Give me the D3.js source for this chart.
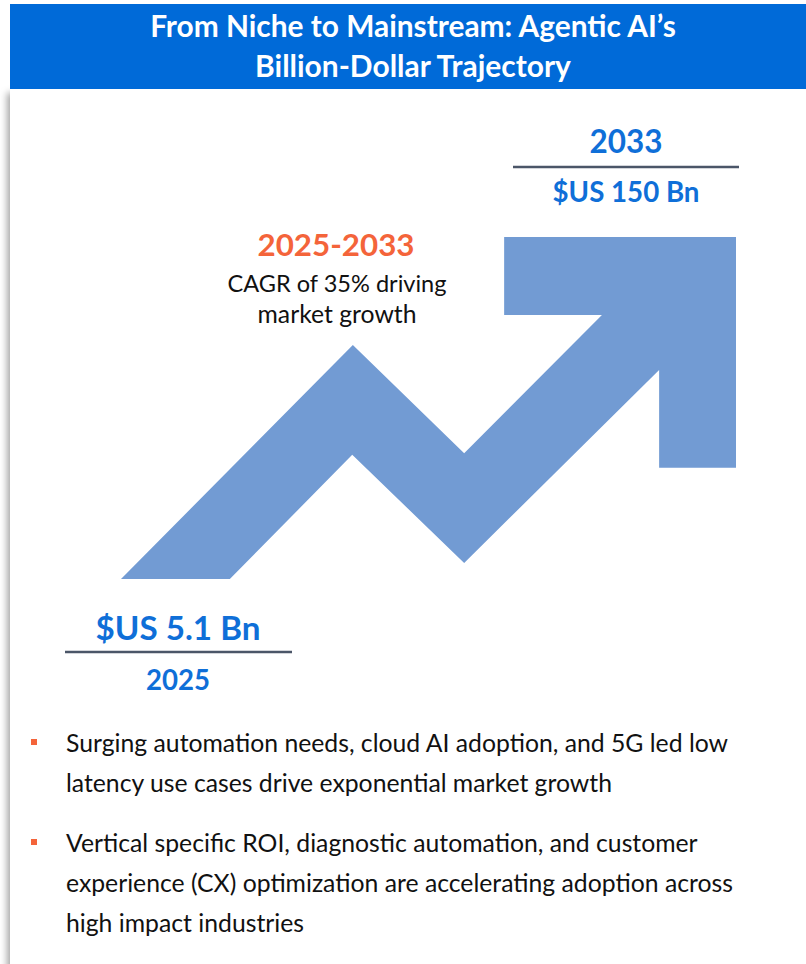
<!DOCTYPE html>
<html>
<head>
<meta charset="utf-8">
<script src="https://cdn.jsdelivr.net/npm/d3@7"></script>
<style>
  body { margin: 0; background: #fff; }
  text { font-family: Lato, "Open Sans", sans-serif; }
</style>
</head>
<body>
<div id="chart"></div>
<script>
// chart content
var titleLines = ["From Niche to Mainstream: Agentic AI\u2019s", "Billion-Dollar Trajectory"]
var years = [2025, 2033]
var marketValues = [5.1, 150]
var cagrRate = 35
var cagrText = ["CAGR of " + cagrRate + "% driving", "market growth"]
var bullets = [
  ["Surging automation needs, cloud AI adoption, and 5G led low",
   "latency use cases drive exponential market growth"],
  ["Vertical specific ROI, diagnostic automation, and customer",
   "experience (CX) optimization are accelerating adoption across",
   "high impact industries"]
]
// trend arrow outline, in 0..1 units of the arrow box
var arrowX = [0, 0.177, 0.376, 0.558, 0.875, 0.875, 1, 1, 0.623, 0.623, 0.782, 0.558, 0.377]
var arrowY = [0, 0, 0.363, 0.047, 0.611, 0.325, 0.325, 1, 1, 0.772, 0.772, 0.368, 0.684]

var width = 806, height = 964
var blue = '#0F6FD8', orange = '#F4643A', arrowColor = '#729BD3'

var svg = d3.select("#chart")
  .append("svg")
  .attr("width", width)
  .attr("height", height)

var defs = svg.append("defs")
var shadow = defs.append("filter")
  .attr("id", "card-shadow")
  .attr("x", "-5%").attr("y", "-5%")
  .attr("width", "110%").attr("height", "110%")
shadow.append("feDropShadow")
  .attr("dx", -3).attr("dy", 4)
  .attr("stdDeviation", 3.5)
  .attr("flood-color", "#000")
  .attr("flood-opacity", 0.35)

// card + title bar
svg.append("rect")
  .attr("x", 10).attr("y", 89)
  .attr("width", 820).attr("height", 900)
  .style("fill", "#fff")
  .attr("filter", "url(#card-shadow)")

svg.append("rect")
  .attr("x", 10).attr("y", 4)
  .attr("width", 800).attr("height", 85)
  .style("fill", "#006AD8")

// fit a text element to a target width
function fit(sel, w) {
  var fs = parseFloat(sel.style("font-size"))
  var len = sel.node().getComputedTextLength()
  sel.style("font-size", (fs * w / len).toFixed(2) + "px")
  return sel
}

svg.selectAll(".title")
  .data(titleLines)
  .enter()
  .append("text")
  .attr("class", "title")
  .attr("x", 413)
  .attr("y", (d, i) => 37 + i * 40)
  .attr("text-anchor", "middle")
  .style("fill", "#fff")
  .style("font-weight", "bold")
  .style("font-size", "24px")
  .text(d => d)
  .each(function(d, i) { fit(d3.select(this), [526, 316][i]) })

// arrow
var xScale = d3.scaleLinear().domain([0, 1]).range([121, 736])
var yScale = d3.scaleLinear().domain([0, 1]).range([579, 237])

var arrowPts = arrowX.map((x, i) => [xScale(x), yScale(arrowY[i])])
svg.append("path")
  .attr("class", "trend-arrow")
  .attr("d", d3.line()(arrowPts) + "Z")
  .style("fill", arrowColor)

var money = d => "$US " + d + " Bn"

// 2033 label (top right)
svg.append("text")
  .attr("x", 626).attr("y", 153)
  .attr("text-anchor", "middle")
  .style("fill", blue).style("font-weight", "bold").style("font-size", "30px")
  .text(years[1])
  .call(fit, 73)

svg.append("line")
  .attr("x1", 513).attr("x2", 739)
  .attr("y1", 167).attr("y2", 167)
  .style("stroke", "#4B5668").style("stroke-width", 2.5)

svg.append("text")
  .attr("x", 626).attr("y", 202)
  .attr("text-anchor", "middle")
  .style("fill", blue).style("font-weight", "bold").style("font-size", "26px")
  .text(money(marketValues[1]))
  .call(fit, 147)

// CAGR label
svg.append("text")
  .attr("x", 336).attr("y", 256)
  .attr("text-anchor", "middle")
  .style("fill", orange).style("font-weight", "bold").style("font-size", "30px")
  .text(years[0] + "-" + years[1])
  .call(fit, 157)

svg.selectAll(".cagr")
  .data(cagrText)
  .enter()
  .append("text")
  .attr("class", "cagr")
  .attr("x", 337)
  .attr("y", (d, i) => 292 + i * 31)
  .attr("text-anchor", "middle")
  .style("fill", "#111").style("font-size", "21px")
  .text(d => d)
  .each(function(d, i) { fit(d3.select(this), [219, 159][i]) })

// 2025 label (bottom left)
svg.append("text")
  .attr("x", 178).attr("y", 640)
  .attr("text-anchor", "middle")
  .style("fill", blue).style("font-weight", "bold").style("font-size", "30px")
  .text(money(marketValues[0]))
  .call(fit, 165)

svg.append("line")
  .attr("x1", 65).attr("x2", 292)
  .attr("y1", 652).attr("y2", 652)
  .style("stroke", "#4B5668").style("stroke-width", 2.5)

svg.append("text")
  .attr("x", 178).attr("y", 690)
  .attr("text-anchor", "middle")
  .style("fill", blue).style("font-weight", "bold").style("font-size", "26px")
  .text(years[0])
  .call(fit, 64)

// bullets
var bulletTop = [752, 852]
var bulletG = svg.selectAll(".bullet")
  .data(bullets)
  .enter()
  .append("g")
  .attr("class", "bullet")
  .attr("transform", (d, i) => `translate(0,${bulletTop[i]})`)

bulletG.append("rect")
  .attr("x", 31).attr("y", -13)
  .attr("width", 6).attr("height", 6)
  .style("fill", orange)

bulletG.selectAll("text")
  .data(d => d)
  .enter()
  .append("text")
  .attr("x", 66)
  .attr("y", (d, i) => i * 40)
  .style("fill", "#111")
  .style("font-size", "20px")
  .text(d => d)

// scale bullet text so first line spans like the reference
var first = bulletG.filter((d, i) => i == 0).select("text")
var bfs = parseFloat(first.style("font-size")) * 662 / first.node().getComputedTextLength()
bulletG.selectAll("text").style("font-size", bfs.toFixed(2) + "px")
</script>
</body>
</html>
